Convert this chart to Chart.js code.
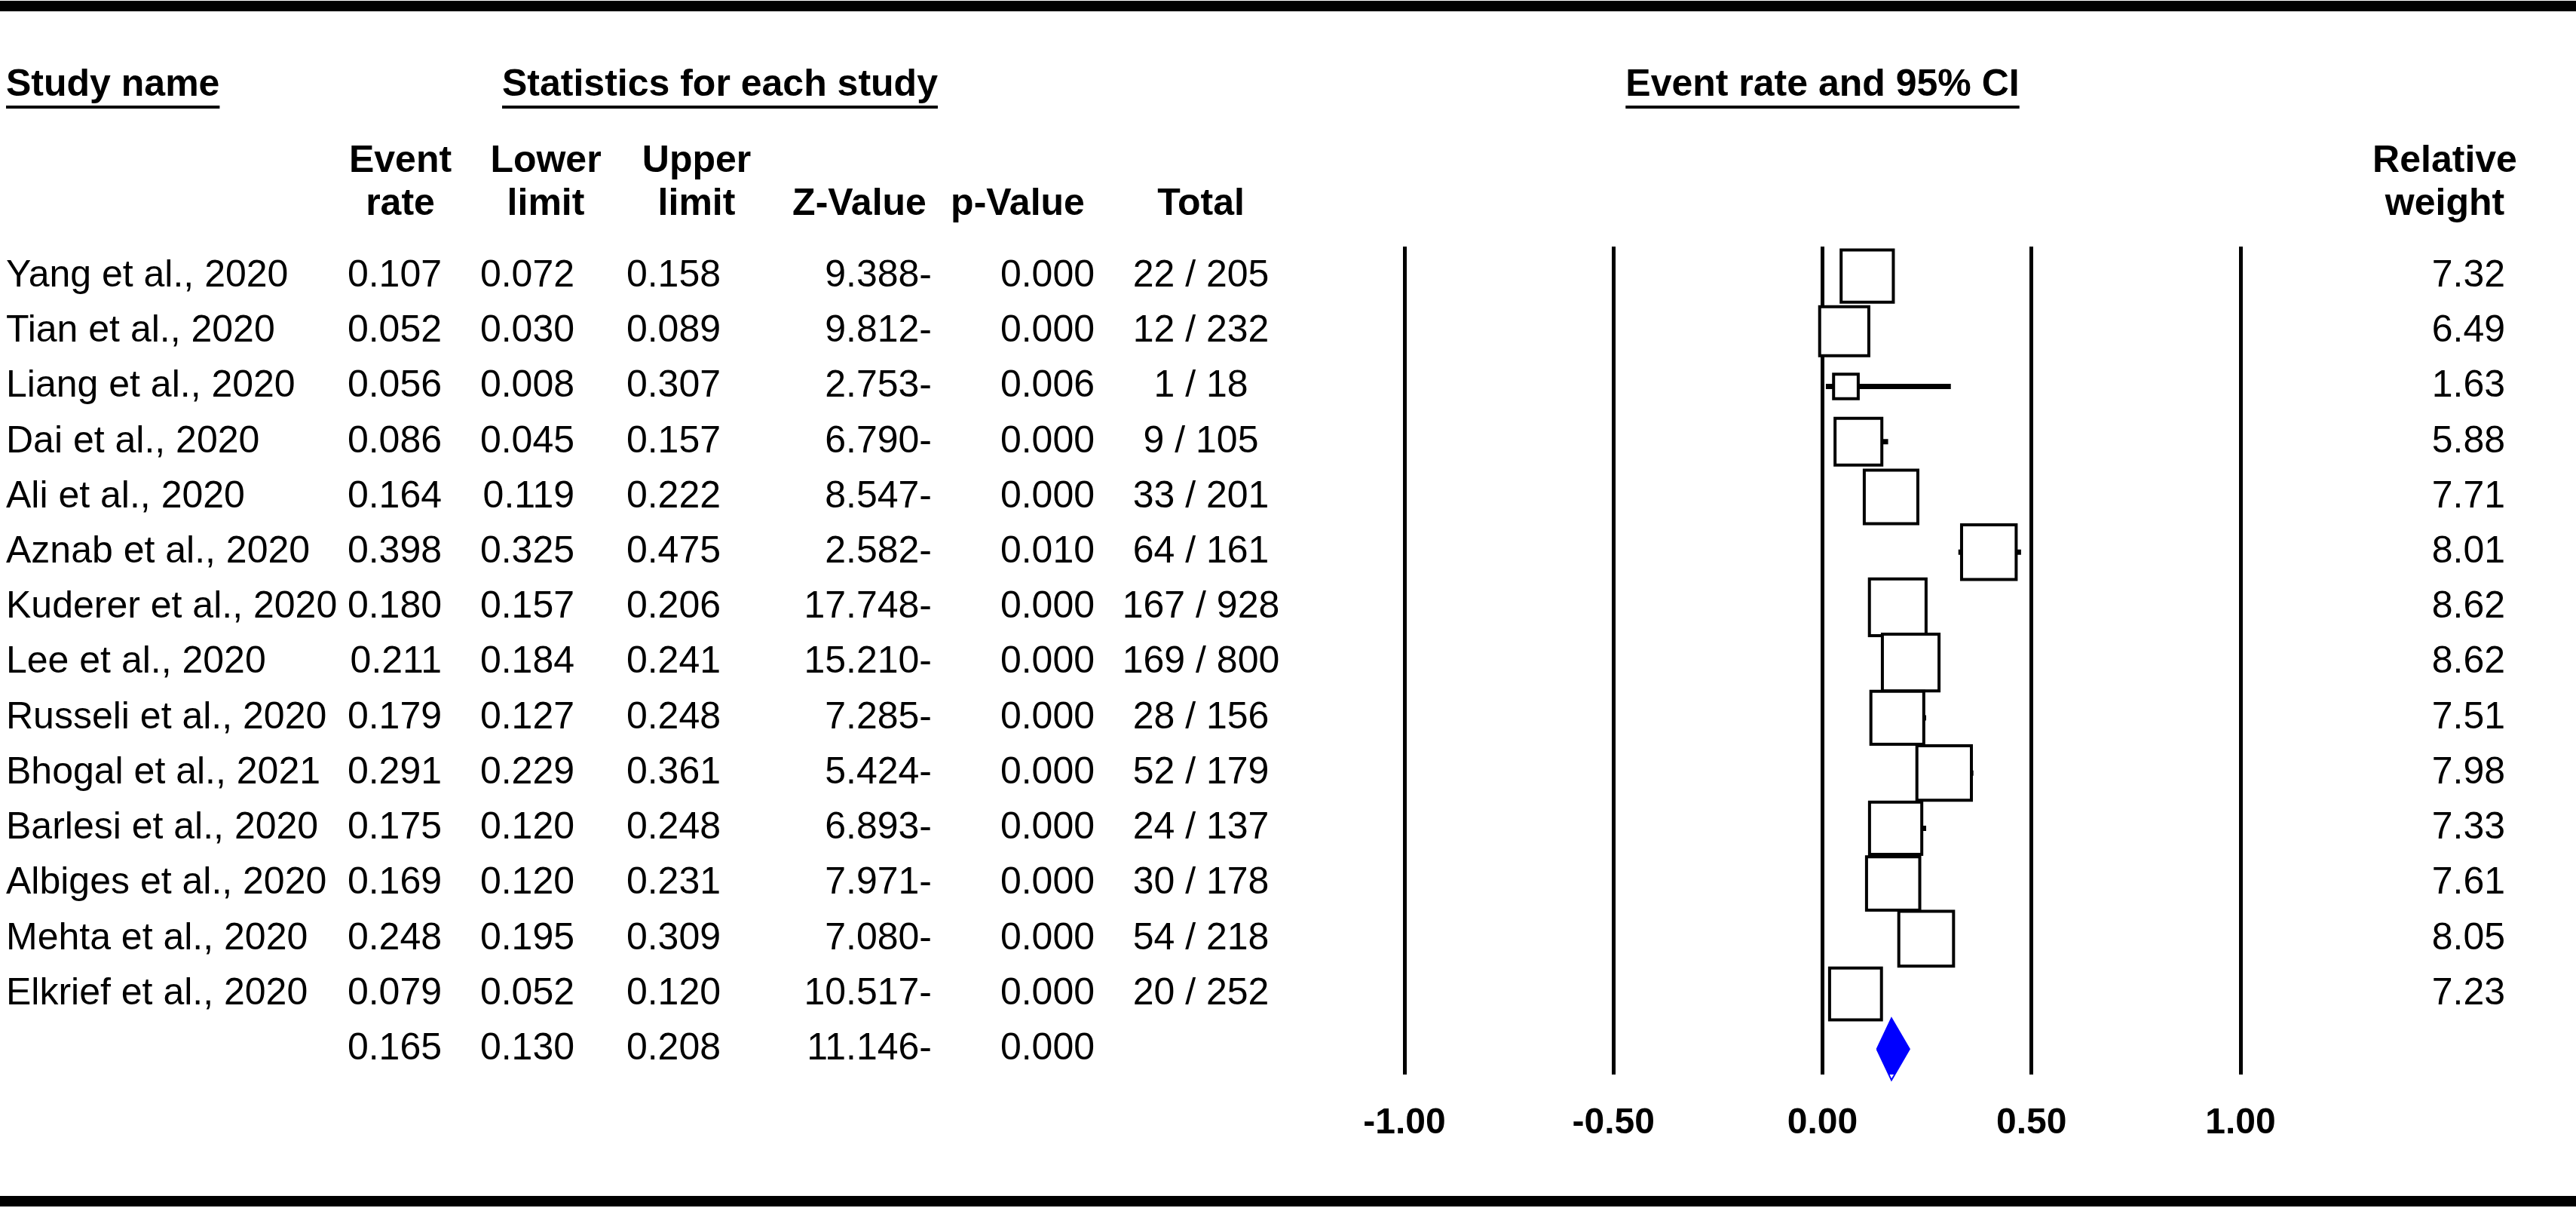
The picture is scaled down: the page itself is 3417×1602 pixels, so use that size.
<!DOCTYPE html>
<html>
<head>
<meta charset="utf-8">
<script src="https://cdn.jsdelivr.net/npm/chart.js@4/dist/chart.umd.min.js"></script>
<style>
  html, body { margin: 0; padding: 0; background: #ffffff; }
  #wrap { width: 3417px; height: 1602px; position: relative; }
</style>
</head>
<body>
<div id="wrap"><canvas id="c" width="3417" height="1602"></canvas></div>
<script>
// ---------------- data ----------------
const studies = [
  "Yang et al., 2020", "Tian et al., 2020", "Liang et al., 2020", "Dai et al., 2020",
  "Ali et al., 2020", "Aznab et al., 2020", "Kuderer et al., 2020", "Lee et al., 2020",
  "Russeli et al., 2020", "Bhogal et al., 2021", "Barlesi et al., 2020", "Albiges et al., 2020",
  "Mehta et al., 2020", "Elkrief et al., 2020"
];
const eventRate = [0.107, 0.052, 0.056, 0.086, 0.164, 0.398, 0.180, 0.211, 0.179, 0.291, 0.175, 0.169, 0.248, 0.079];
const lowerLimit = [0.072, 0.030, 0.008, 0.045, 0.119, 0.325, 0.157, 0.184, 0.127, 0.229, 0.120, 0.120, 0.195, 0.052];
const upperLimit = [0.158, 0.089, 0.307, 0.157, 0.222, 0.475, 0.206, 0.241, 0.248, 0.361, 0.248, 0.231, 0.309, 0.120];
const zValue = [9.388, 9.812, 2.753, 6.790, 8.547, 2.582, 17.748, 15.210, 7.285, 5.424, 6.893, 7.971, 7.080, 10.517];
const pValue = [0.000, 0.000, 0.006, 0.000, 0.000, 0.010, 0.000, 0.000, 0.000, 0.000, 0.000, 0.000, 0.000, 0.000];
const events = [22, 12, 1, 9, 33, 64, 167, 169, 28, 52, 24, 30, 54, 20];
const totals = [205, 232, 18, 105, 201, 161, 928, 800, 156, 179, 137, 178, 218, 252];
const relWeight = [7.32, 6.49, 1.63, 5.88, 7.71, 8.01, 8.62, 8.62, 7.51, 7.98, 7.33, 7.61, 8.05, 7.23];
const summary = { rate: 0.165, lower: 0.130, upper: 0.208, z: 11.146, p: 0.000 };
const xTicks = [-1.00, -0.50, 0.00, 0.50, 1.00];

// ---------------- derived datasets ----------------
const nStudies = studies.length;
const summaryRow = nStudies;
const boxPoints = eventRate.map((r, i) => ({ x: r, y: i }));
const ciPoints = [];
for (let i = 0; i < nStudies; i++) {
  ciPoints.push({ x: lowerLimit[i], y: i }, { x: upperLimit[i], y: i }, { x: null, y: null });
}
const DIAMOND_HALF = 0.56; // half height in row units (style)
const diamondPoints = [
  { x: summary.lower, y: summaryRow },
  { x: summary.rate, y: summaryRow - DIAMOND_HALF },
  { x: summary.upper, y: summaryRow },
  { x: summary.rate, y: summaryRow + DIAMOND_HALF },
  { x: summary.lower, y: summaryRow }
];
const BOX_K = 18.1;

// ---------------- text / table plugin ----------------
const FONT = "'Liberation Sans', Arial, sans-serif";
const REG = "50px " + FONT;
const BOLD = "bold 50px " + FONT;

const tablePlugin = {
  id: 'forestTable',
  beforeDraw(chart) {
    const ctx = chart.ctx;
    ctx.save();
    ctx.fillStyle = '#ffffff';
    ctx.fillRect(0, 0, chart.width, chart.height);
    ctx.restore();
  },
  afterDraw(chart) {
    const ctx = chart.ctx;
    const yS = chart.scales.y;
    const xS = chart.scales.x;
    ctx.save();
    ctx.fillStyle = '#000';
    // top and bottom rules
    ctx.fillRect(0, 1, chart.width, 14);
    ctx.fillRect(0, 1586, chart.width, 14);

    ctx.textBaseline = 'middle';
    function txt(s, x, y, align, font) {
      ctx.font = font; ctx.textAlign = align; ctx.fillText(s, x, y);
    }
    function underlined(s, x, y, align) {
      ctx.font = BOLD; ctx.textAlign = align; ctx.fillText(s, x, y);
      const w = ctx.measureText(s).width;
      let x0 = x;
      if (align === 'center') x0 = x - w / 2;
      else if (align === 'right') x0 = x - w;
      ctx.fillRect(x0, 140, w, 4);
    }
    // group headers
    underlined("Study name", 8, 113, 'left');
    underlined("Statistics for each study", 666, 113, 'left');
    underlined("Event rate and 95% CI", xS.getPixelForValue(0), 113, 'center');

    // column layout
    const H1 = 214, H2 = 271;
    const cols = {
      event: { h: 531, r: 586 },
      lower: { h: 724, r: 762 },
      upper: { h: 924, r: 956 },
      z: { h: 1140, r: 1236 },
      p: { h: 1350, r: 1452 },
      total: { h: 1593, c: 1593 },
      weight: { h: 3243, r: 3323 }
    };
    txt("Event", cols.event.h, H1, 'center', BOLD);
    txt("rate", cols.event.h, H2, 'center', BOLD);
    txt("Lower", cols.lower.h, H1, 'center', BOLD);
    txt("limit", cols.lower.h, H2, 'center', BOLD);
    txt("Upper", cols.upper.h, H1, 'center', BOLD);
    txt("limit", cols.upper.h, H2, 'center', BOLD);
    txt("Z-Value", cols.z.h, H2, 'center', BOLD);
    txt("p-Value", cols.p.h, H2, 'center', BOLD);
    txt("Total", cols.total.h, H2, 'center', BOLD);
    txt("Relative", cols.weight.h, H1, 'center', BOLD);
    txt("weight", cols.weight.h, H2, 'center', BOLD);

    for (let i = 0; i < nStudies; i++) {
      const y = yS.getPixelForValue(i);
      txt(studies[i], 8, y, 'left', REG);
      txt(eventRate[i].toFixed(3), cols.event.r, y, 'right', REG);
      txt(lowerLimit[i].toFixed(3), cols.lower.r, y, 'right', REG);
      txt(upperLimit[i].toFixed(3), cols.upper.r, y, 'right', REG);
      txt(zValue[i].toFixed(3) + "-", cols.z.r, y, 'right', REG);
      txt(pValue[i].toFixed(3), cols.p.r, y, 'right', REG);
      txt(events[i] + " / " + totals[i], cols.total.c, y, 'center', REG);
      txt(relWeight[i].toFixed(2), cols.weight.r, y, 'right', REG);
    }
    const ys = yS.getPixelForValue(summaryRow);
    txt(summary.rate.toFixed(3), cols.event.r, ys, 'right', REG);
    txt(summary.lower.toFixed(3), cols.lower.r, ys, 'right', REG);
    txt(summary.upper.toFixed(3), cols.upper.r, ys, 'right', REG);
    txt(summary.z.toFixed(3) + "-", cols.z.r, ys, 'right', REG);
    txt(summary.p.toFixed(3), cols.p.r, ys, 'right', REG);
    ctx.restore();
  }
};

// ---------------- chart ----------------
new Chart(document.getElementById('c'), {
  type: 'scatter',
  data: {
    datasets: [
      {
        label: 'Study',
        data: boxPoints,
        pointStyle: 'rect',
        pointRadius: relWeight.map(w => BOX_K * Math.sqrt(w)),
        backgroundColor: '#ffffff',
        borderColor: '#000000',
        borderWidth: 4,
        order: 0,
        clip: false
      },
      {
        label: 'CI',
        data: ciPoints,
        showLine: true,
        spanGaps: false,
        borderColor: '#000000',
        borderWidth: 7,
        pointRadius: 0,
        fill: false,
        order: 2,
        clip: false
      },
      {
        label: 'Summary',
        data: diamondPoints,
        showLine: true,
        borderColor: '#0000ff',
        backgroundColor: '#0000ff',
        borderWidth: 2,
        pointRadius: 0,
        fill: 'shape',
        order: 0,
        clip: false
      }
    ]
  },
  options: {
    responsive: false,
    devicePixelRatio: 1,
    animation: false,
    events: [],
    layout: { padding: { left: 1863, right: 445, top: 327, bottom: 2 } },
    plugins: { legend: { display: false }, tooltip: { enabled: false } },
    scales: {
      x: {
        type: 'linear',
        min: xTicks[0],
        max: xTicks[xTicks.length - 1],
        afterBuildTicks: (scale) => { scale.ticks = xTicks.map(v => ({ value: v })); },
        afterFit: (scale) => { scale.height = 175; },
        grid: { display: true, color: '#000000', lineWidth: 5, drawTicks: false, drawOnChartArea: true },
        border: { display: false },
        ticks: {
          color: '#000000',
          padding: 36,
          font: { family: "'Liberation Sans', Arial, sans-serif", size: 48, weight: 'bold' },
          callback: (v) => Number(v).toFixed(2),
          maxRotation: 0,
          autoSkip: false
        }
      },
      y: {
        type: 'linear',
        display: false,
        reverse: true,
        min: -0.533,
        max: 14.46
      }
    }
  },
  plugins: [tablePlugin]
});
</script>
</body>
</html>
